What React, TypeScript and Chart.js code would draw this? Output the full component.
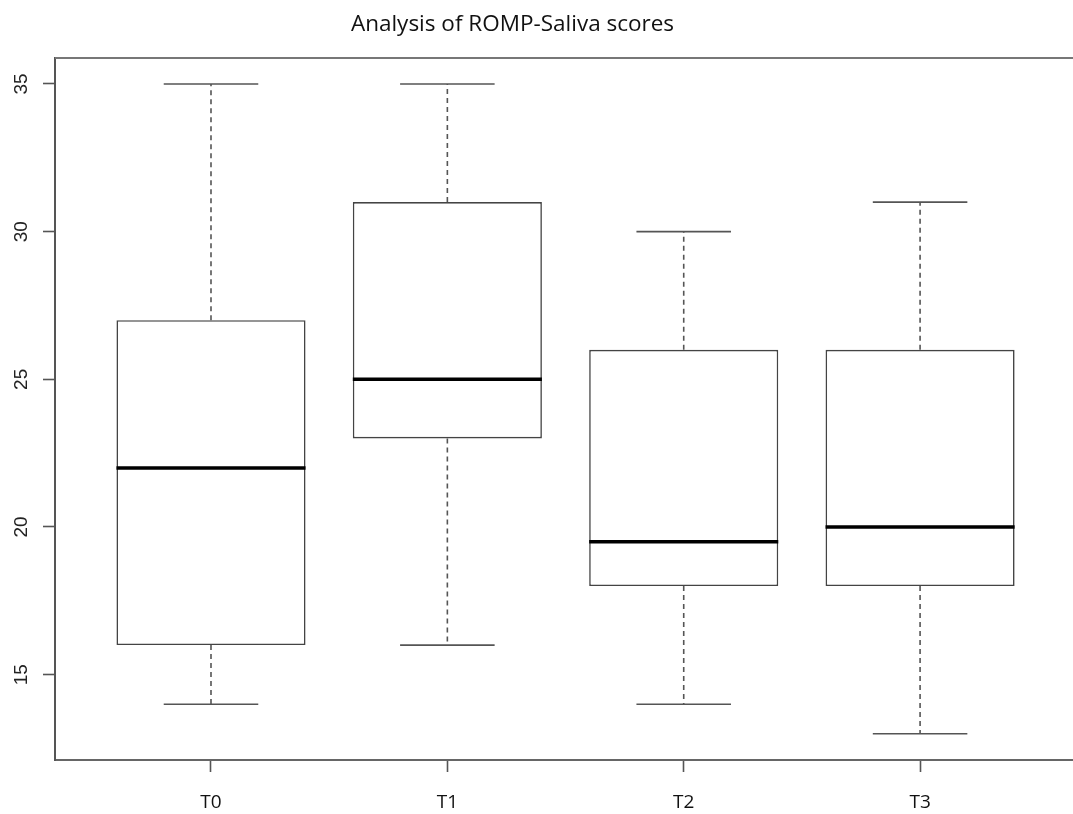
import React, { useEffect, useRef } from "react";
import { Chart, registerables } from "chart.js";

Chart.register(...registerables);

const chartTitle = "Analysis of ROMP-Saliva scores";
const categories = ["T0", "T1", "T2", "T3"];
const minValues = [14, 16, 14, 13];
const q1Values = [16, 23, 18, 18];
const medianValues = [22, 25, 19.5, 20];
const q3Values = [27, 31, 26, 26];
const maxValues = [35, 35, 30, 31];
const yTickValues = [15, 20, 25, 30, 35];

const BOX_HALF = 0.4;
const CAP_HALF = 0.2;

const framePlugin = {
  id: "frameAndTitle",
  afterDraw(chart: any) {
    const { ctx, chartArea } = chart;
    ctx.save();
    ctx.strokeStyle = "#777";
    ctx.lineWidth = 2;
    ctx.beginPath();
    ctx.moveTo(chartArea.left, chartArea.top);
    ctx.lineTo(chartArea.right, chartArea.top);
    ctx.stroke();
    ctx.fillStyle = "#111";
    ctx.font = '22.5px "Open Sans"';
    ctx.textAlign = "center";
    ctx.textBaseline = "alphabetic";
    ctx.fillText(chartTitle, 512.5, 31);
    ctx.restore();
  },
};

export default function App() {
  const ref = useRef<HTMLCanvasElement | null>(null);
  useEffect(() => {
    if (!ref.current) return;
    const whiskers: any[] = [];
    const caps: any[] = [];
    const medians: any[] = [];
    const boxes: any[] = [];
    categories.forEach((_, i) => {
      const x = i + 1;
      whiskers.push({ x, y: q3Values[i] }, { x, y: maxValues[i] }, { x, y: null });
      whiskers.push({ x, y: q1Values[i] }, { x, y: minValues[i] }, { x, y: null });
      caps.push({ x: x - CAP_HALF, y: maxValues[i] }, { x: x + CAP_HALF, y: maxValues[i] }, { x, y: null });
      caps.push({ x: x - CAP_HALF, y: minValues[i] }, { x: x + CAP_HALF, y: minValues[i] }, { x, y: null });
      medians.push({ x: x - BOX_HALF, y: medianValues[i] }, { x: x + BOX_HALF, y: medianValues[i] }, { x, y: null });
      boxes.push({ x, y: [q1Values[i], q3Values[i]] });
    });
    const chart = new Chart(ref.current, {
      type: "bar",
      data: {
        datasets: [
          {
            type: "line",
            data: medians,
            borderColor: "#000",
            borderWidth: 3.5,
            pointRadius: 0,
            spanGaps: false,
            order: 0,
          } as any,
          {
            type: "bar",
            data: boxes,
            backgroundColor: "#fff",
            borderColor: "#444",
            borderWidth: 1.6,
            borderSkipped: false,
            barPercentage: 0.8,
            categoryPercentage: 1,
            order: 1,
          } as any,
          {
            type: "line",
            data: caps,
            borderColor: "#555",
            borderWidth: 1.6,
            pointRadius: 0,
            spanGaps: false,
            order: 2,
          } as any,
          {
            type: "line",
            data: whiskers,
            borderColor: "#555",
            borderWidth: 1.6,
            borderDash: [5, 4],
            pointRadius: 0,
            spanGaps: false,
            order: 3,
          } as any,
        ],
      },
      options: {
        animation: false,
        responsive: false,
        devicePixelRatio: 1,
        layout: { padding: { top: 58, left: 0, right: 0, bottom: 0 } },
        plugins: { legend: { display: false }, tooltip: { enabled: false }, title: { display: false } },
        scales: {
          x: {
            type: "linear",
            offset: false,
            min: 0.34,
            max: 4.647,
            afterBuildTicks: (scale: any) => {
              scale.ticks = categories.map((_, i) => ({ value: i + 1 }));
            },
            afterFit: (scale: any) => {
              scale.height = 54;
            },
            ticks: {
              callback: (v: any) => categories[Math.round(Number(v)) - 1] ?? "",
              font: { family: '"Open Sans"', size: 19 },
              color: "#111",
              padding: 19,
              maxRotation: 0,
              minRotation: 0,
            },
            grid: { display: true, offset: false, drawOnChartArea: false, drawTicks: true, tickLength: 12, tickColor: "#555", tickWidth: 1.6 },
            border: { display: true, color: "#666", width: 2 },
          },
          y: {
            type: "linear",
            min: 12.11,
            max: 35.88,
            afterBuildTicks: (scale: any) => {
              scale.ticks = yTickValues.map((v) => ({ value: v }));
            },
            afterFit: (scale: any) => {
              scale.width = 55;
            },
            ticks: {
              font: { family: '"Liberation Sans"', size: 19 },
              color: "#222",
              padding: 11,
              minRotation: 90,
              maxRotation: 90,
              crossAlign: "center",
            },
            grid: { display: true, drawOnChartArea: false, drawTicks: true, tickLength: 12, tickColor: "#555", tickWidth: 1.6 },
            border: { display: true, color: "#555", width: 2 },
          },
        },
      } as any,
      plugins: [framePlugin],
    });
    return () => chart.destroy();
  }, []);
  return (
    <div style={{ position: "fixed", left: 0, top: 0, width: 1073, height: 814, background: "#fff" }}>
      <canvas ref={ref} width={1073} height={814} />
    </div>
  );
}
